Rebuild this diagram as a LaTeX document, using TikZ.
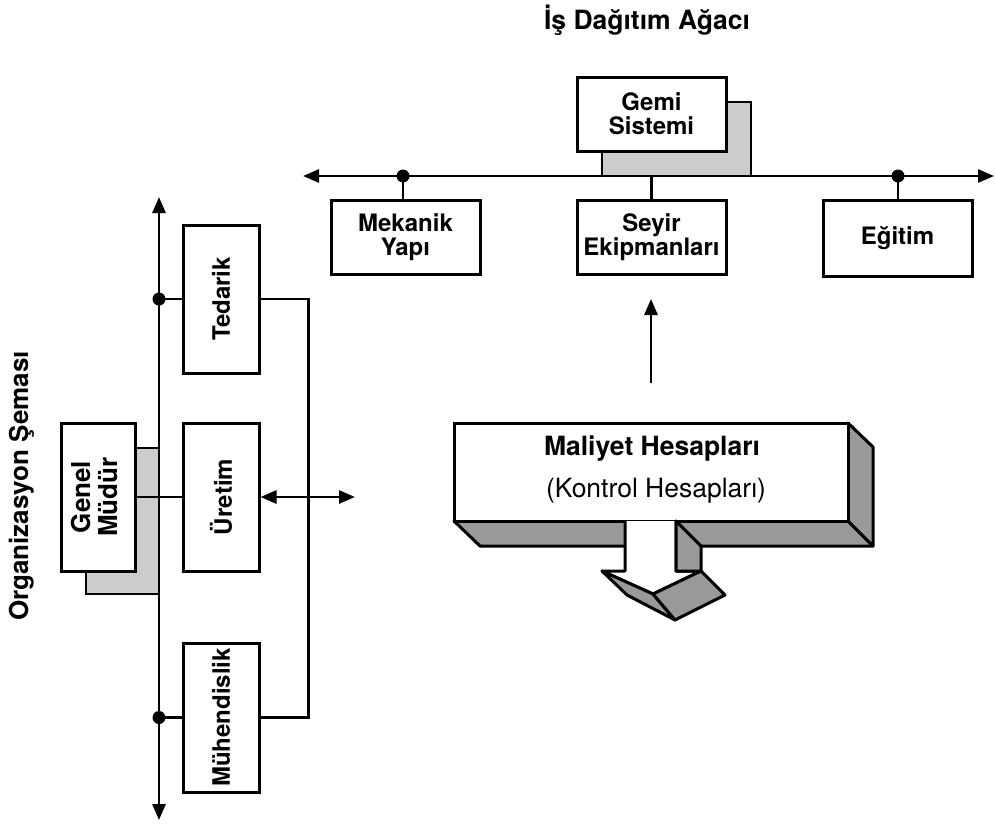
\documentclass[tikz,border=0pt]{standalone}
\usepackage{fontspec}
\setmainfont{TeX Gyre Heros}
\usetikzlibrary{arrows.meta}
\definecolor{shadegray}{gray}{0.80}
\definecolor{facegray}{gray}{0.60}
\begin{document}
\begin{tikzpicture}[x=1pt,y=-1pt,
  >={Triangle[length=16pt,width=13pt]},
  box/.style={draw,line width=3pt,fill=white,inner sep=0pt,align=center,
    font=\fontsize{24}{24}\selectfont\bfseries},
  hbox/.style={box,minimum width=149pt,minimum height=74pt},
  vbox/.style={box,minimum width=76pt,minimum height=148pt},
  conn/.style={line width=2.8pt},
  dot/.style={circle,fill=black,inner sep=0pt,minimum size=13pt},
  shade/.style={draw,line width=2.8pt,fill=shadegray},
  face/.style={draw,line width=3pt,line join=round,fill=facegray},
  heading/.style={font=\fontsize{26.5}{28}\selectfont\bfseries}]
\useasboundingbox (0,0) rectangle (995,823);

% ---------------- work breakdown tree ----------------
\node[heading] (title) at (647,20) {İş Dağıtım Ağacı};

\draw[shade] (602,102) rectangle (751,176);
\coordinate (hl) at (303,176);
\coordinate (hr) at (994,176);
\draw[conn,<->] (hl) -- (hr);

\node[hbox] (gemi)   at (651.5,114) {Gemi\\Sistemi};
\node[hbox] (mek)    at (405.5,237) {Mekanik\\Yapı};
\node[hbox] (seyir)  at (651.5,237) {Seyir\\Ekipmanları};
\node[hbox,minimum height=76pt] (egitim) at (897.5,238) {Eğitim};

\node[dot] (d1) at (403,176) {};
\node[dot] (d2) at (898,176) {};
\draw[conn] (d1.center) -- (d1.center |- mek.north);
\draw[conn] (d2.center) -- (d2.center |- egitim.north);
\draw[conn] (seyir.north) -- (seyir.north |- hl);

\coordinate (ua) at (651,383);
\coordinate (ub) at (651,299);
\draw[conn,->] (ua) -- (ub);

% ---------------- cost accounts block ----------------
\draw[face] (454,521) -- (848,521) -- (873,546) -- (480,546) -- cycle;
\draw[face] (848,423) -- (873,447) -- (873,546) -- (848,521) -- cycle;
\node[draw,line width=3pt,fill=white,minimum width=394pt,minimum height=98pt,inner sep=0pt]
  (maliyet) at (651,472) {};
\node[anchor=base,font=\fontsize{26.5}{30}\selectfont\bfseries] (mt1) at (652,455) {Maliyet Hesapları};
\node[anchor=base,font=\fontsize{26.5}{30}\selectfont] (mt2) at (656,497) {(Kontrol Hesapları)};

% downward block arrow
\draw[line width=3pt,line join=round,fill=white]
  (625,521) -- (625,571) -- (602,571) -- (653,594) -- (701,571) -- (676,571) -- (676,521);
\draw[face] (676,521) -- (701,546) -- (701,571) -- (676,571) -- cycle;
\draw[face] (602,571) -- (653,594) -- (675,620) -- (627,595) -- cycle;
\draw[face] (653,594) -- (701,571) -- (725,595) -- (675,620) -- cycle;

% ---------------- organisation chart ----------------
\node[heading,font=\fontsize{26}{28}\selectfont\bfseries,rotate=90] (org) at (22,486) {Organizasyon Şeması};

\draw[shade] (86,448) rectangle (159,594);
\coordinate (vt) at (159,197);
\coordinate (vb) at (159,820);
\draw[conn,<->] (vb) -- (vt);

\node[vbox] (tedarik) at (221,299) {\rotatebox{90}{Tedarik}};
\node[vbox] (uretim)  at (221,497) {\rotatebox{90}{Üretim}};
\node[vbox,minimum height=149pt] (muh) at (221,717.5) {\rotatebox{90}{Mühendislik}};
\node[vbox,minimum width=74pt,font=\fontsize{26}{25}\selectfont\bfseries] (genel) at (98,497)
  {\rotatebox{90}{\begin{tabular}{@{}c@{}}Genel\\Müdür\end{tabular}}};

\node[dot] (d3) at (vt |- tedarik.west) {};
\node[dot] (d4) at (vt |- muh.west) {};
\draw[conn] (d3.center) -- (tedarik.west);
\draw[conn] (d4.center) -- (muh.west);
\draw[conn] (tedarik.east) -- ++(48,0) |- (muh.east);
\draw[conn] (genel.east) -- (uretim.west);

\coordinate (da) at (355,497);
\draw[conn,<->] (uretim.east) -- (da);
\end{tikzpicture}
\end{document}
